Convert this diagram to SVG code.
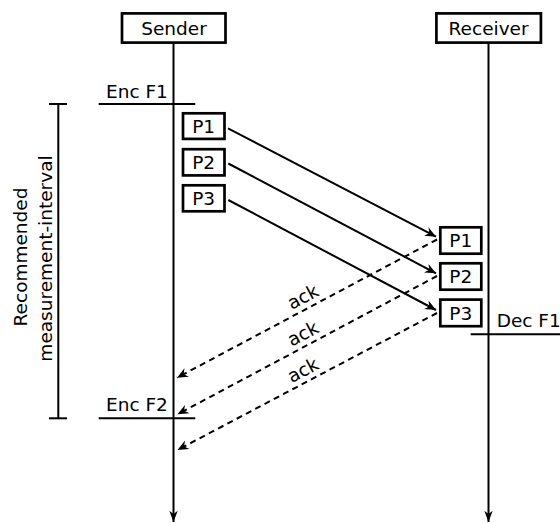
<svg xmlns="http://www.w3.org/2000/svg" width="560" height="523" viewBox="0 0 560 523">
  <style>
    text { font-family: "DejaVu Sans", sans-serif; font-size: 18.5px; fill: #000; }
    .box { fill: #fff; stroke: #000; stroke-width: 2.7; }
    .life { stroke: #000; stroke-width: 2; fill: none; }
    .tick { stroke: #000; stroke-width: 2; fill: none; }
    .msg { stroke: #000; stroke-width: 2; fill: none; marker-end: url(#head); }
    .ack { stroke: #000; stroke-width: 2; fill: none; stroke-dasharray: 6 4.5; marker-end: url(#head); }
    .mid { text-anchor: middle; }
  </style>
  <defs>
    <marker id="head" markerUnits="userSpaceOnUse" markerWidth="14" markerHeight="12" viewBox="-12 -6 14 12" refX="0" refY="0" orient="auto">
      <path d="M0,0 L-11,-4.8 L-7.5,0 L-11,4.8 Z" fill="#000"/>
    </marker>
    <marker id="headLife" markerUnits="userSpaceOnUse" markerWidth="14" markerHeight="14" viewBox="-14 -7 15 14" refX="0" refY="0" orient="auto">
      <path d="M0,0 L-12,-4.5 L-8.5,0 L-12,4.5 Z" fill="#000"/>
    </marker>
  </defs>

  <!-- lifelines -->
  <g id="lifelines">
    <line class="life" x1="173.5" y1="44" x2="173.5" y2="522" marker-end="url(#headLife)"/>
    <line class="life" x1="488.5" y1="44" x2="488.5" y2="522" marker-end="url(#headLife)"/>
  </g>

  <!-- participants -->
  <g id="sender">
    <rect class="box" x="122" y="13.4" width="103.5" height="29.2"/>
    <text class="mid" x="174" y="34.5">Sender</text>
  </g>
  <g id="receiver">
    <rect class="box" x="436.4" y="13.4" width="104.5" height="29.2"/>
    <text class="mid" x="488.6" y="34.5">Receiver</text>
  </g>

  <!-- frame events -->
  <g id="enc-f1">
    <line class="tick" x1="98.7" y1="104" x2="195.3" y2="104"/>
    <text x="106" y="98">Enc F1</text>
  </g>
  <g id="enc-f2">
    <line class="tick" x1="98.7" y1="418.3" x2="195.3" y2="418.3"/>
    <text x="106" y="411">Enc F2</text>
  </g>
  <g id="dec-f1">
    <line class="tick" x1="470.7" y1="334.3" x2="560" y2="334.3"/>
    <text x="496.7" y="326.7">Dec F1</text>
  </g>

  <!-- measurement interval bracket -->
  <g id="interval">
    <line class="tick" x1="58.3" y1="104" x2="58.3" y2="418.3"/>
    <line class="tick" x1="49" y1="104" x2="67" y2="104"/>
    <line class="tick" x1="49" y1="418.3" x2="67" y2="418.3"/>
    <text class="mid" x="26.7" y="257" transform="rotate(-90 26.7 257)">Recommended</text>
    <text class="mid" x="51.7" y="258.5" transform="rotate(-90 51.7 258.5)">measurement-interval</text>
  </g>

  <!-- packets at sender -->
  <g id="s-p1">
    <rect class="box" x="183" y="113.3" width="41.5" height="25.6"/>
    <text class="mid" x="203.7" y="133">P1</text>
  </g>
  <g id="s-p2">
    <rect class="box" x="183" y="149.2" width="41.5" height="26.2"/>
    <text class="mid" x="203.7" y="169">P2</text>
  </g>
  <g id="s-p3">
    <rect class="box" x="183" y="185.3" width="41.5" height="26"/>
    <text class="mid" x="203.7" y="205">P3</text>
  </g>

  <!-- packets at receiver -->
  <g id="r-p1">
    <rect class="box" x="440.3" y="227.3" width="41" height="26.4"/>
    <text class="mid" x="460.8" y="247.3">P1</text>
  </g>
  <g id="r-p2">
    <rect class="box" x="440.3" y="263.3" width="41" height="26.4"/>
    <text class="mid" x="460.8" y="283">P2</text>
  </g>
  <g id="r-p3">
    <rect class="box" x="440.3" y="299.6" width="41" height="26.6"/>
    <text class="mid" x="460.8" y="319.8">P3</text>
  </g>

  <!-- packet transfers and acknowledgements -->
  <g id="connectors">
    <line class="msg" x1="228" y1="128.3" x2="436" y2="236.7"/>
    <line class="msg" x1="228.3" y1="163.5" x2="436" y2="273.3"/>
    <line class="msg" x1="228.3" y1="200" x2="436" y2="310"/>
    <line class="ack" x1="437" y1="239.5" x2="177" y2="377.7"/>
    <line class="ack" x1="437" y1="276" x2="177.5" y2="414.3"/>
    <line class="ack" x1="437" y1="313" x2="177.5" y2="450"/>
    <text class="mid" x="306" y="302.5" transform="rotate(-28 306 302.5)">ack</text>
    <text class="mid" x="306" y="339.2" transform="rotate(-28 306 339.2)">ack</text>
    <text class="mid" x="306" y="375.8" transform="rotate(-28 306 375.8)">ack</text>
  </g>
</svg>
